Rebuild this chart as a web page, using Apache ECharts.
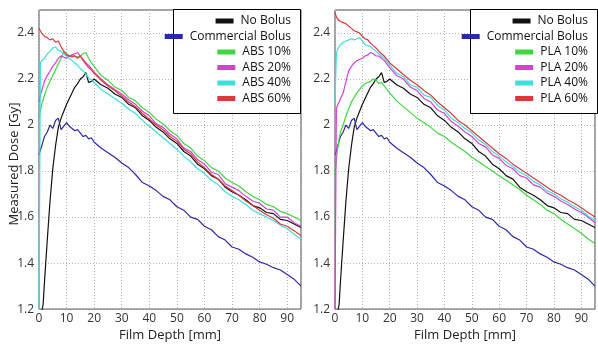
<!DOCTYPE html>
<html>
<head>
<meta charset="utf-8">
<script src="https://cdn.jsdelivr.net/npm/echarts@6/dist/echarts.min.js"></script>
<style>
  html, body { margin: 0; padding: 0; background: #fff; }
  #chart { width: 598px; height: 347px; }
</style>
</head>
<body>
<div id="chart"></div>
<script>
// depth in mm (shared x values for every curve)
const depth = [0, 0.5, 1, 1.5, 2, 3, 4, 5, 6, 7, 8, 9, 10, 11, 12, 13, 14, 15, 16, 17, 18, 19, 20,
  22.5, 25, 27.5, 30, 32.5, 35, 37.5, 40, 42.5, 45, 47.5, 50, 52.5, 55, 57.5, 60, 62.5, 65, 67.5, 70,
  72.5, 75, 77.5, 80, 82.5, 85, 87.5, 90, 92.5, 95]

// measured dose [Gy]
const noBolus = [null, null, 1.19, 1.22, 1.32, 1.5, 1.67, 1.81, 1.91, 1.99, 2.03, 2.06, 2.09, 2.115, 2.14, 2.165, 2.18, 2.2, 2.21, 2.228, 2.185, 2.19, 2.2,
  2.175, 2.16, 2.135, 2.12, 2.09, 2.075, 2.04, 2.02, 1.99, 1.97, 1.94, 1.92, 1.885, 1.865, 1.83, 1.81, 1.78, 1.765, 1.73, 1.71, 1.695, 1.675, 1.65, 1.64, 1.62, 1.615, 1.59, 1.585, 1.57, 1.555]
const commercial = [1.87, 1.89, 1.91, 1.93, 1.95, 1.97, 2.0, 1.985, 2.02, 2.03, 1.98, 1.995, 2.01, 1.995, 1.985, 1.975, 1.98, 1.965, 1.95, 1.955, 1.94, 1.945, 1.925,
  1.9, 1.88, 1.86, 1.835, 1.815, 1.785, 1.75, 1.735, 1.715, 1.69, 1.675, 1.645, 1.63, 1.6, 1.59, 1.56, 1.545, 1.515, 1.5, 1.47, 1.46, 1.44, 1.425, 1.405, 1.395, 1.38, 1.37, 1.35, 1.33, 1.3]

const abs10 = [2.03, 2.06, 2.09, 2.11, 2.13, 2.165, 2.19, 2.215, 2.24, 2.265, 2.29, 2.32, 2.31, 2.3, 2.305, 2.3, 2.295, 2.3, 2.31, 2.315, 2.29, 2.27, 2.255,
  2.215, 2.195, 2.165, 2.15, 2.12, 2.105, 2.075, 2.055, 2.025, 2.005, 1.975, 1.955, 1.92, 1.9, 1.865, 1.845, 1.815, 1.8, 1.77, 1.75, 1.735, 1.71, 1.69, 1.675, 1.655, 1.645, 1.625, 1.615, 1.6, 1.585]
const abs20 = [2.1, 2.13, 2.15, 2.17, 2.19, 2.215, 2.235, 2.255, 2.27, 2.29, 2.3, 2.295, 2.29, 2.3, 2.305, 2.31, 2.315, 2.3, 2.285, 2.27, 2.26, 2.245, 2.23,
  2.2, 2.175, 2.155, 2.135, 2.11, 2.09, 2.06, 2.04, 2.005, 1.99, 1.96, 1.94, 1.9, 1.885, 1.85, 1.83, 1.795, 1.785, 1.745, 1.73, 1.715, 1.69, 1.67, 1.66, 1.635, 1.63, 1.6, 1.6, 1.575, 1.56]
const abs40 = [1.19, 2.27, 2.28, 2.285, 2.29, 2.31, 2.32, 2.335, 2.34, 2.325, 2.32, 2.31, 2.3, 2.29, 2.28, 2.27, 2.26, 2.245, 2.235, 2.22, 2.205, 2.195, 2.185,
  2.155, 2.135, 2.115, 2.095, 2.07, 2.05, 2.02, 1.995, 1.97, 1.945, 1.92, 1.895, 1.865, 1.84, 1.81, 1.79, 1.76, 1.74, 1.71, 1.69, 1.675, 1.655, 1.63, 1.615, 1.6, 1.585, 1.565, 1.55, 1.525, 1.505]
const abs60 = [2.42, 2.41, 2.4, 2.395, 2.385, 2.38, 2.37, 2.375, 2.36, 2.365, 2.34, 2.32, 2.305, 2.3, 2.295, 2.3, 2.29, 2.3, 2.28, 2.265, 2.25, 2.24, 2.225,
  2.195, 2.17, 2.15, 2.125, 2.1, 2.08, 2.05, 2.025, 2.0, 1.98, 1.95, 1.93, 1.895, 1.875, 1.84, 1.815, 1.785, 1.765, 1.735, 1.715, 1.695, 1.67, 1.65, 1.63, 1.61, 1.595, 1.57, 1.56, 1.54, 1.52]

const pla10 = [1.78, 1.85, 1.9, 1.94, 1.97, 2.0, 2.04, 2.07, 2.1, 2.12, 2.14, 2.155, 2.17, 2.18, 2.185, 2.19, 2.2, 2.195, 2.18, 2.185, 2.17, 2.155, 2.14,
  2.105, 2.08, 2.055, 2.03, 2.01, 1.99, 1.965, 1.95, 1.925, 1.905, 1.885, 1.86, 1.84, 1.82, 1.8, 1.78, 1.76, 1.74, 1.72, 1.695, 1.675, 1.655, 1.63, 1.615, 1.59, 1.57, 1.55, 1.53, 1.505, 1.485]
const pla20 = [1.19, 2.07, 2.09, 2.1, 2.115, 2.14, 2.19, 2.235, 2.255, 2.27, 2.28, 2.285, 2.29, 2.3, 2.305, 2.315, 2.31, 2.3, 2.3, 2.29, 2.28, 2.265, 2.25,
  2.215, 2.2, 2.165, 2.15, 2.115, 2.1, 2.065, 2.05, 2.015, 1.995, 1.97, 1.95, 1.92, 1.905, 1.87, 1.855, 1.825, 1.81, 1.78, 1.77, 1.74, 1.73, 1.705, 1.69, 1.67, 1.655, 1.635, 1.62, 1.6, 1.575]
const pla40 = [2.1, 2.31, 2.33, 2.34, 2.35, 2.36, 2.365, 2.37, 2.375, 2.37, 2.375, 2.38, 2.365, 2.35, 2.345, 2.34, 2.33, 2.32, 2.31, 2.3, 2.29, 2.275, 2.26,
  2.225, 2.21, 2.175, 2.165, 2.13, 2.12, 2.085, 2.065, 2.03, 2.01, 1.985, 1.965, 1.935, 1.915, 1.885, 1.865, 1.84, 1.82, 1.795, 1.78, 1.755, 1.74, 1.715, 1.7, 1.68, 1.665, 1.645, 1.63, 1.605, 1.585]
const pla60 = [2.49, 2.47, 2.46, 2.455, 2.45, 2.445, 2.44, 2.43, 2.42, 2.41, 2.405, 2.4, 2.385, 2.375, 2.37, 2.355, 2.345, 2.335, 2.32, 2.31, 2.3, 2.285, 2.27,
  2.245, 2.22, 2.195, 2.175, 2.15, 2.13, 2.1, 2.075, 2.05, 2.02, 2.0, 1.975, 1.95, 1.925, 1.9, 1.875, 1.855, 1.83, 1.81, 1.79, 1.77, 1.75, 1.73, 1.71, 1.695, 1.675, 1.66, 1.64, 1.62, 1.6]

const xTicks = [0, 10, 20, 30, 40, 50, 60, 70, 80, 90]
const yTicks = [1.2, 1.4, 1.6, 1.8, 2, 2.2, 2.4]

const COLORS = {
  'No Bolus': '#111111',
  'Commercial Bolus': '#2a2aa6',
  '10%': '#3fd63f',
  '20%': '#d63fd6',
  '40%': '#3fdede',
  '60%': '#d83a3a',
}

const FONT = 'Open Sans'

const chart = echarts.init(document.getElementById('chart'), null, { renderer: 'canvas' })

function pairs(arr) {
  return depth.map((d, i) => [d, arr[i]])
}

function lineSeries(name, color, arr, idx) {
  return {
    name,
    type: 'line',
    xAxisIndex: idx,
    yAxisIndex: idx,
    data: pairs(arr),
    symbol: 'none',
    clip: true,
    z: 2,
    color,
    lineStyle: { width: 1.2, color },
  }
}

function xAxis(idx) {
  return {
    type: 'value',
    gridIndex: idx,
    min: 0,
    max: 95,
    interval: 10,
    name: 'Film Depth [mm]',
    nameLocation: 'middle',
    nameGap: 17,
    nameTextStyle: { fontFamily: FONT, fontSize: 13, color: '#222' },
    axisLine: { show: false },
    axisTick: { show: false },
    axisLabel: {
      fontFamily: FONT, fontSize: 12, color: '#333', margin: 3,
      formatter: (v) => (xTicks.includes(v) ? String(v) : ''),
    },
    splitLine: { lineStyle: { type: [1, 2], color: '#b5b5b5', width: 1 } },
  }
}

function yAxis(idx) {
  return {
    type: 'value',
    gridIndex: idx,
    min: 1.2,
    max: 2.5,
    interval: 0.2,
    axisLine: { show: false },
    axisTick: { show: false },
    axisLabel: {
      fontFamily: FONT, fontSize: 12, color: '#333', margin: 5,
      formatter: (v) => {
        const r = Math.round(v * 10) / 10
        return yTicks.includes(r) ? String(r) : ''
      },
    },
    splitLine: { lineStyle: { type: [1, 2], color: '#b5b5b5', width: 1 } },
  }
}

// one legend per row so every row ends flush right like the original
const leftNames = ['No Bolus', 'Commercial Bolus', 'ABS 10%', 'ABS 20%', 'ABS 40%', 'ABS 60%']
const rightNames = ['No Bolus', 'Commercial Bolus', 'PLA 10%', 'PLA 20%', 'PLA 40%', 'PLA 60%']
const legends = []
function addLegendRows(names, right) {
  names.forEach((n, i) => {
    legends.push({
      data: [n],
      right,
      top: 15 + i * 15.5,
      orient: 'vertical',
      padding: 0,
      icon: 'rect',
      itemWidth: 18,
      itemHeight: 5,
      selectedMode: false,
      z: 5,
      textStyle: { fontFamily: FONT, fontSize: 12, color: '#111', padding: [0, 0, 0, 2] },
    })
  })
}
addLegendRows(leftNames, 307)
addLegendRows(rightNames, 10)

const option = {
  animation: false,
  backgroundColor: '#fff',
  grid: [
    { left: 39, top: 10, width: 262, height: 308, show: true, borderColor: '#444', borderWidth: 1, backgroundColor: 'transparent' },
    { left: 335, top: 10, width: 265, height: 308, show: true, borderColor: '#444', borderWidth: 1, backgroundColor: 'transparent' },
  ],
  xAxis: [xAxis(0), xAxis(1)],
  yAxis: [yAxis(0), yAxis(1)],
  legend: legends,
  graphic: [
    { type: 'rect', z: 4, shape: { x: 173.5, y: 9.5, width: 127, height: 104 }, style: { fill: '#fff', stroke: '#000', lineWidth: 1 } },
    { type: 'rect', z: 4, shape: { x: 470.5, y: 9.5, width: 127, height: 104 }, style: { fill: '#fff', stroke: '#000', lineWidth: 1 } },
    {
      type: 'text', x: 14, y: 164, rotation: Math.PI / 2,
      style: { text: 'Measured Dose [Gy]', fontFamily: FONT, fontSize: 13, fill: '#222', align: 'center', verticalAlign: 'middle' },
    },
  ],
  series: [
    lineSeries('No Bolus', COLORS['No Bolus'], noBolus, 0),
    lineSeries('Commercial Bolus', COLORS['Commercial Bolus'], commercial, 0),
    lineSeries('ABS 10%', COLORS['10%'], abs10, 0),
    lineSeries('ABS 20%', COLORS['20%'], abs20, 0),
    lineSeries('ABS 40%', COLORS['40%'], abs40, 0),
    lineSeries('ABS 60%', COLORS['60%'], abs60, 0),
    lineSeries('No Bolus', COLORS['No Bolus'], noBolus, 1),
    lineSeries('Commercial Bolus', COLORS['Commercial Bolus'], commercial, 1),
    lineSeries('PLA 10%', COLORS['10%'], pla10, 1),
    lineSeries('PLA 20%', COLORS['20%'], pla20, 1),
    lineSeries('PLA 40%', COLORS['40%'], pla40, 1),
    lineSeries('PLA 60%', COLORS['60%'], pla60, 1),
  ],
}

chart.setOption(option)
</script>
</body>
</html>
